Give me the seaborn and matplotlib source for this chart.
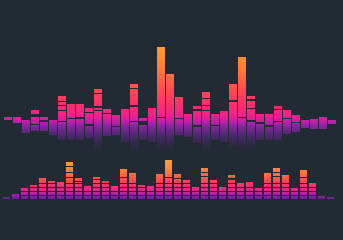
import numpy as np
import matplotlib
matplotlib.use("Agg")
import matplotlib.pyplot as plt
import seaborn as sns
from matplotlib.path import Path
from matplotlib.patches import PathPatch
from matplotlib.colors import to_rgb

BG = "#222a33"

# ---------------- data (pixel levels) ----------------
cats = list(range(37))

# top row: peak level and lower (reflection) level of each column
top_peak_y = [117, 117, 121.7, 109.7, 117.3, 122, 96, 104.3, 104.3, 107.7,
              89, 109.3, 115, 109.3, 83.7, 117.7, 107.7, 47.3, 74.3, 96.7,
              114, 106, 92, 114, 111.3, 84.3, 56.7, 96, 114, 114,
              106, 110, 115, 121, 119.3, 117, 122]
top_floor_y = [119.5, 123, 133.3, 131, 131, 135.3, 140, 140, 140, 138,
               150, 136, 135, 141.7, 150, 140, 141.7, 150, 148, 135,
               137, 143.3, 150, 140, 141.7, 146.7, 150, 150, 140, 140,
               140, 134, 132, 128.3, 129.3, 129.3, 124.3]
top_gaps = [[], [], [], [124.5], [121], [], [101.3, 105.7, 110.3, 121.7],
            [118.3], [118], [112.7, 125], [93.7, 107, 110.5], [113.3],
            [126.7], [], [88.3, 106, 121.3], [], [], [117.3], [], [118.3],
            [], [110, 126], [98.7, 105.7, 110.3], [125.3], [], [101],
            [117.7], [100, 108.3, 121], [], [126], [109.3, 121.3], [118.7],
            [122.7], [], [], [], []]
wide_gap_col = [3, 15, 28]
wide_gap_from = [113.7, 121.3, 121.7]
wide_gap_to = [117.3, 124.7, 124.0]

# bottom row
bot_peak_y = [197, 194.3, 188.3, 185, 177.7, 180.7, 182.3, 162, 177.7, 186,
              176.7, 181.3, 186, 169, 173.3, 185, 186, 174, 160, 174,
              180, 186.7, 168.3, 180, 186.7, 175, 183, 182.3, 188.3, 173.3,
              168.3, 175, 188.3, 170, 183.3, 195.7, 197.3]
bot_gaps = [[], [], [], [], [], [], [], [166.7, 172.3, 177.7], [181.7], [],
            [179.3], [], [], [177.7], [], [], [], [], [177.7], [178.3],
            [], [], [172.3, 176.7], [], [], [179], [], [], [], [],
            [172.3, 176.7], [], [], [177.7], [], [], []]
bot_segments = [183.3, 187.3, 191.7, 195.7]

# ---------------- layout constants ----------------
W, H = 343, 240
STEP = 9.0
BW = 0.85
TOP_X0, BOT_X0 = 7.8, 6.4
TOP_BASE, BOT_BASE = 120.0, 198.8
GAP = 1.15

top_stops = [(0, "#F9A22C"), (45, "#F9A02C"), (70, "#FF7A38"), (90, "#FF4A52"),
             (105, "#FF2E6E"), (116, "#F2208E"), (121, "#C61FA8"),
             (126, "#8E27A6"), (136, "#66298F"), (150, "#3A2A58"), (240, "#2a2a40")]
bot_stops = [(0, "#F9A530"), (158, "#F9A530"), (168, "#FF8C36"), (176, "#FF6540"),
             (183, "#FF3C5A"), (188, "#FA2580"), (192, "#D81E9E"),
             (195, "#9A23A8"), (199, "#5E2688"), (240, "#5E2688")]


def gradient(stops, fade=None, n=960):
    ys = np.linspace(0, H, n)
    sy = [s[0] for s in stops]
    cols = np.array([to_rgb(s[1]) for s in stops])
    rgb = np.stack([np.interp(ys, sy, cols[:, k]) for k in range(3)], axis=1)
    bg = np.array(to_rgb(BG))
    if fade is not None:
        a = np.clip((fade[1] - ys) / (fade[1] - fade[0]), 0.08, 1.0)
        rgb = rgb * a[:, None] + bg * (1 - a[:, None])
    return rgb[:, None, :]


def fill_bars(ax, patches, img, base):
    paths = [p.get_patch_transform().transform_path(p.get_path()) for p in patches]
    comp = Path.make_compound_path(*paths)
    clip = PathPatch(comp, transform=ax.transData, facecolor="none", edgecolor="none")
    xl = ax.get_xlim()
    im = ax.imshow(img, extent=(xl[0], xl[1], base - H, base), origin="upper",
                   aspect="auto", interpolation="bilinear", zorder=1)
    im.set_clip_path(clip)
    for p in patches:
        p.set_visible(False)


fig = plt.figure(figsize=(W / 100, H / 100), dpi=100, facecolor=BG)
sns.set_style("dark")

# ---------------- top row ----------------
ax1 = fig.add_axes([0, 0, 1, 1])
ax1.set_facecolor(BG)
up = [max(TOP_BASE - t, 0) for t in top_peak_y]
down = [-(f - TOP_BASE) for f in top_floor_y]
sns.barplot(x=cats, y=up, ax=ax1, width=BW, color="#ff3070", saturation=1,
            errorbar=None, linewidth=0)
sns.barplot(x=cats, y=down, ax=ax1, width=BW, color="#7a2a9a", saturation=1,
            errorbar=None, linewidth=0)
# column that floats just above the base (no contact)
ax1.set_xlim(-TOP_X0 / STEP, (W - TOP_X0) / STEP)
ax1.set_ylim(TOP_BASE - H, TOP_BASE)
bars1 = list(ax1.patches)
fill_bars(ax1, bars1, gradient(top_stops, fade=(124, 154)), TOP_BASE)
for i, gl in enumerate(top_gaps):
    for g in gl:
        ax1.bar(i, GAP, bottom=TOP_BASE - g - GAP / 2, width=BW, color=BG,
                linewidth=0, zorder=3)
for c, a, b in zip(wide_gap_col, wide_gap_from, wide_gap_to):
    ax1.bar(c, b - a, bottom=TOP_BASE - b, width=BW, color=BG, linewidth=0, zorder=3)
ax1.axis("off")

# ---------------- bottom row ----------------
ax2 = fig.add_axes([0, 0, 1, 1])
ax2.patch.set_alpha(0)
hts = [BOT_BASE - t for t in bot_peak_y]
sns.barplot(x=cats, y=hts, ax=ax2, width=BW, color="#ff3070", saturation=1,
            errorbar=None, linewidth=0)
ax2.set_xlim(-BOT_X0 / STEP, (W - BOT_X0) / STEP)
ax2.set_ylim(BOT_BASE - H, BOT_BASE)
bars2 = list(ax2.patches)
fill_bars(ax2, bars2, gradient(bot_stops), BOT_BASE)
for i, t in enumerate(bot_peak_y):
    levels = list(bot_gaps[i]) + [s for s in bot_segments if t < s - 1.5]
    for g in levels:
        ax2.bar(i, GAP * 0.9, bottom=BOT_BASE - g - GAP * 0.45, width=BW, color=BG,
                linewidth=0, zorder=3)
ax2.axis("off")

fig.savefig("out.png", dpi=100, facecolor=BG)
